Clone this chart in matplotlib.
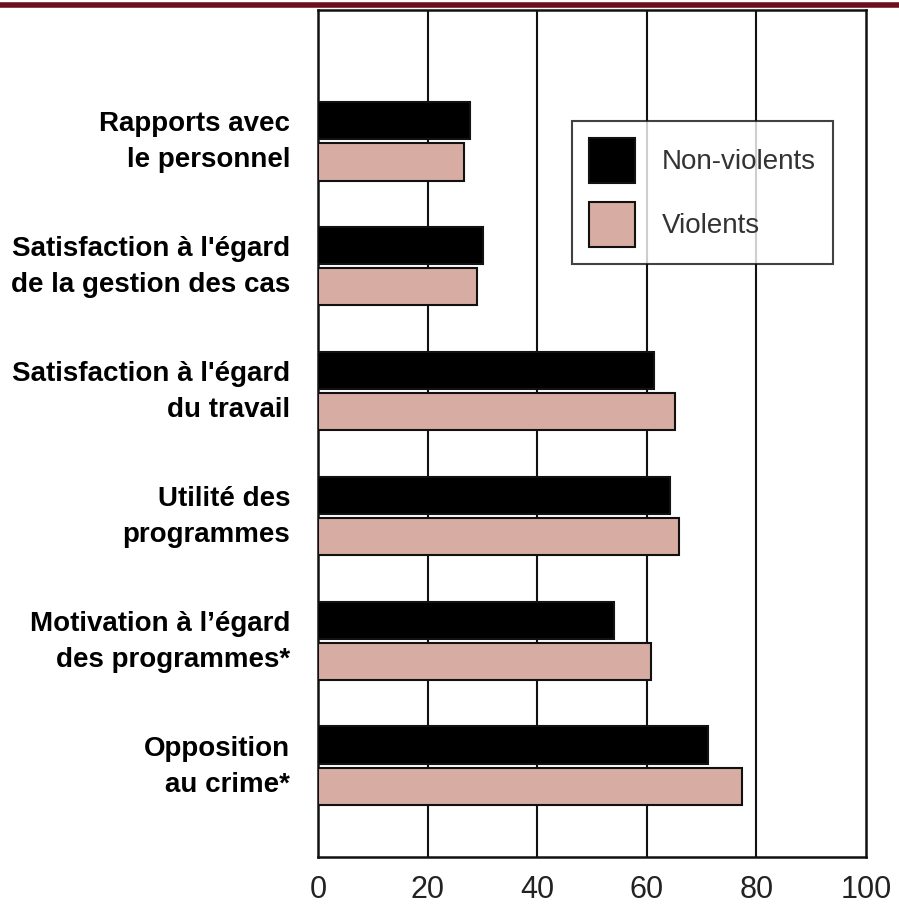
import matplotlib
matplotlib.use('Agg')
import matplotlib.pyplot as plt
import matplotlib.transforms as mtransforms
from matplotlib.patches import Patch
import numpy as np

# data
categories = ['Rapports avec\nle personnel',
              "Satisfaction à l'égard\nde la gestion des cas",
              "Satisfaction à l'égard\ndu travail",
              'Utilité des\nprogrammes',
              "Motivation à l’égard\ndes programmes*",
              'Opposition\nau crime*']
non_violents = [27.7, 30.1, 61.3, 64.2, 54.0, 71.2]
violents = [26.6, 29.0, 65.1, 65.9, 60.8, 77.4]
xticks = [0, 20, 40, 60, 80, 100]

col_nv = '#000000'
col_v = '#d6aca3'
col_top = '#6b0f1a'

fam = ['Liberation Sans', 'DejaVu Sans']

fig = plt.figure(figsize=(8.99, 9.09), dpi=100)
ax = fig.add_axes([0.3537, 0.0572, 0.6096, 0.9318])

y = np.arange(len(categories))
h = 0.30
ax.barh(y - 0.165, non_violents, height=h, color=col_nv,
        edgecolor='#111111', linewidth=1.5, zorder=3)
ax.barh(y + 0.165, violents, height=h, color=col_v,
        edgecolor='#111111', linewidth=1.5, zorder=3)

ax.set_xlim(0, 100)
ax.set_ylim(5.73, -1.05)
ax.set_xticks(xticks)
ax.set_xticklabels([str(t) for t in xticks], fontsize=22,
                   family=fam, color='#222222')
ax.set_yticks(y)
ax.set_yticklabels(categories, fontsize=20, fontweight='bold',
                   family=fam, linespacing=1.5, ha='right')
ax.tick_params(axis='both', length=0)
ax.tick_params(axis='y', pad=20)
ax.tick_params(axis='x', pad=13)

# lift the category labels a little, as in the original
offset = mtransforms.ScaledTranslation(0, 5 / 72, fig.dpi_scale_trans)
for lab in ax.get_yticklabels():
    lab.set_transform(lab.get_transform() + offset)

for t in xticks[1:-1]:
    ax.axvline(t, color='#111111', linewidth=1.5, zorder=1)
for side in ['top', 'bottom', 'left', 'right']:
    ax.spines[side].set_linewidth(1.8)
    ax.spines[side].set_color('#111111')

# top rule
fig.add_artist(plt.Line2D([0.0, 1.0], [0.9945, 0.9945],
                          color=col_top, linewidth=4,
                          transform=fig.transFigure))

handles = [Patch(facecolor=col_nv, edgecolor='#111111', linewidth=1.5),
           Patch(facecolor=col_v, edgecolor='#111111', linewidth=1.5)]
leg = ax.legend(handles, ['Non-violents', 'Violents'],
                loc='upper left', bbox_to_anchor=(0.4635, 0.869),
                frameon=True, fancybox=False, edgecolor='#111111',
                handlelength=1.65, handleheight=2.1, handletextpad=0.95,
                labelspacing=0.7, borderpad=0.62, borderaxespad=0,
                prop={'family': fam, 'size': 20})
leg.get_frame().set_linewidth(1.5)
for t in leg.get_texts():
    t.set_color('#333333')
leg.set_zorder(5)

fig.savefig('out.png', dpi=100)
